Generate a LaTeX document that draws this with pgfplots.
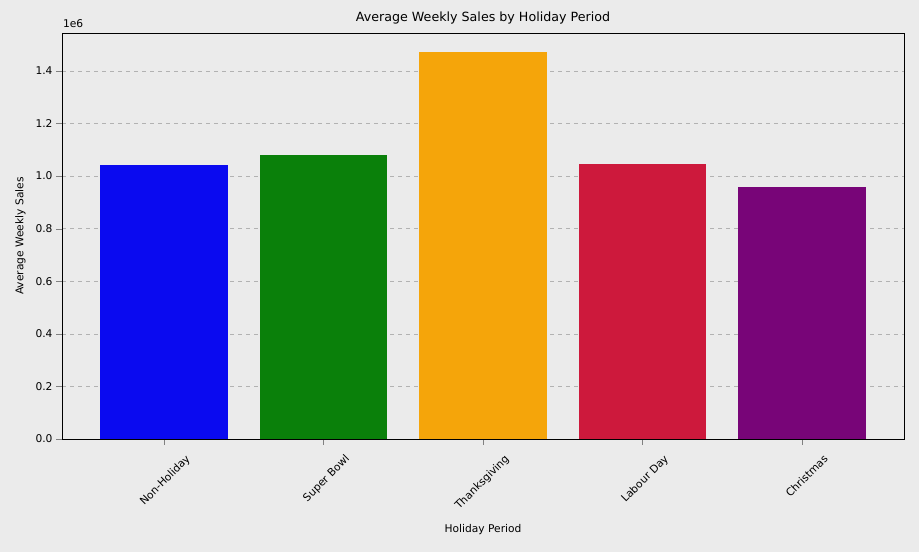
\documentclass[border=0pt]{standalone}
\usepackage{pgfplots}
\pgfplotsset{compat=1.18}
\usepackage{fontspec}
\setmainfont{DejaVu Sans}
\usetikzlibrary{backgrounds}
\definecolor{bg}{RGB}{235,235,235}
\begin{document}
\fontsize{8}{10}\selectfont
\begin{tikzpicture}
\begin{axis}[
  scale only axis, width=631.5pt, height=304.5pt,
  anchor=south west, at={(0,0)},
  xmin=-0.64, xmax=4.64, ymin=0, ymax=1.544,
  xtick={0,1,2,3,4},
  xticklabels={Non-Holiday,Super Bowl,Thanksgiving,Labour Day,Christmas},
  x tick label style={rotate=45, anchor=north east, font=\fontsize{8}{10}\selectfont, xshift=9pt, yshift=-13pt},
  y tick label style={font=\fontsize{8}{10}\selectfont},
  ytick={0,0.2,0.4,0.6,0.8,1.0,1.2,1.4},
  yticklabel style={/pgf/number format/.cd, fixed, fixed zerofill, precision=1},
  /pgf/number format/assume math mode=true,
  ymajorgrids, grid style={dashed, gray!60},
  axis background/.style={fill=bg},
  tick align=outside, xtick pos=bottom, ytick pos=left,
  title={Average Weekly Sales by Holiday Period},
  title style={font=\fontsize{9.5}{11}\selectfont, yshift=-2pt},
  xlabel={Holiday Period}, ylabel={Average Weekly Sales},
  xlabel style={yshift=-3pt},
  ylabel style={yshift=2pt},
  ybar, bar width=0.8, bar shift=0pt,
]
\addplot[draw=none, fill={rgb,255:red,10;green,10;blue,240}] coordinates {(0,1.042)};
\addplot[draw=none, fill={rgb,255:red,10;green,128;blue,10}] coordinates {(1,1.080)};
\addplot[draw=none, fill={rgb,255:red,245;green,165;blue,10}] coordinates {(2,1.471)};
\addplot[draw=none, fill={rgb,255:red,205;green,25;blue,60}] coordinates {(3,1.046)};
\addplot[draw=none, fill={rgb,255:red,120;green,5;blue,120}] coordinates {(4,0.958)};
\end{axis}
\node[anchor=south west] at (-2pt,306pt) {1e6};
\begin{scope}[on background layer]
\fill[bg] (-46.5pt,-84.75pt) rectangle (642.75pt,329.25pt);
\end{scope}
\end{tikzpicture}
\end{document}
